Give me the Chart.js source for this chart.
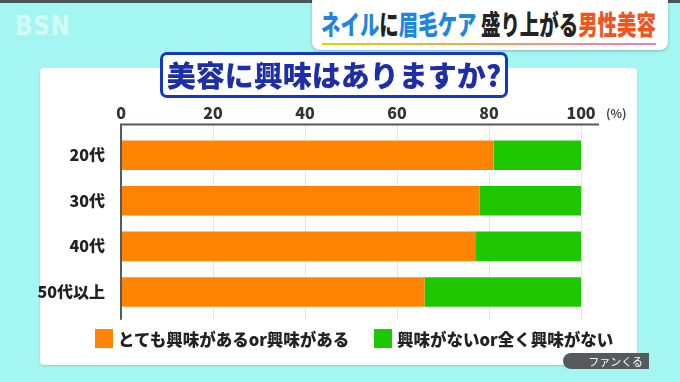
<!DOCTYPE html>
<html lang="ja">
<head>
<meta charset="utf-8">
<script src="https://cdn.jsdelivr.net/npm/chart.js@4/dist/chart.umd.min.js"></script>
<style>
  html, body { margin:0; padding:0; }
  body { width:680px; height:382px; overflow:hidden; position:relative; background:#a4f6f2;
         font-family:"Noto Sans CJK JP","Noto Sans",sans-serif; }
  .abs { position:absolute; }
  #strip { left:0; top:0; width:680px; height:3px; background:#4a5658; }
  #logo { left:15px; top:10px; font:700 27px "DejaVu Sans",sans-serif; color:rgba(255,255,255,0.55); letter-spacing:1px; transform:scaleX(0.85); transform-origin:left; }
  #header { left:312px; top:-6px; width:356px; height:56px; background:#fff; border-radius:8px; box-shadow:0 1px 3px rgba(0,0,0,0.25); }
  #headtext { left:321px; top:6px; width:340px; white-space:nowrap; font-weight:900; font-size:27px; line-height:36px; color:#222; transform:scaleX(0.72); transform-origin:left; }
  #headline { left:322px; top:43px; width:334px; height:2px; background:linear-gradient(90deg,#f4c800,#f7a050 50%,#f07ac8); }
  .blue { color:#1f86e0; } .red { color:#f2541e; }
  #panel { left:40px; top:68px; width:597px; height:297px; background:#fff; border-radius:4px; box-shadow:0 1px 2px rgba(0,0,0,0.15); }
  #title { left:160px; top:52px; width:342px; height:40px; background:#fff; border:3px solid #1537c4; border-radius:7px; }
  #titletext { left:160px; top:52px; width:348px; height:46px; text-align:center; font-weight:900; font-size:29px; line-height:44px; color:#1d2ea6; white-space:nowrap; z-index:3; }
  #wrap { left:0; top:0; width:680px; height:382px; z-index:2; }
  #pct { left:606px; top:104px; font:700 12px "Noto Sans CJK JP",sans-serif; color:#444; z-index:3; }
  .lg { z-index:3; display:flex; align-items:center; font-weight:900; font-size:16.5px; color:#222; white-space:nowrap; }
  .sw { width:18px; height:19px; margin-right:5px; }
  #credit { left:563px; top:353px; width:86px; height:16px; background:#555a5c; border-radius:8px 0 0 8px; color:#fff; font-size:11px; line-height:16px; text-align:right; padding-right:6px; box-sizing:border-box; z-index:3; }
</style>
</head>
<body>
<div id="strip" class="abs"></div>
<div id="logo" class="abs">BSN</div>
<div id="header" class="abs"></div>
<div id="headtext" class="abs"><span class="blue">ネイル</span>に<span class="blue">眉毛ケア</span> 盛り上がる<span class="red">男性美容</span></div>
<div id="headline" class="abs"></div>
<div id="panel" class="abs"></div>
<div id="title" class="abs"></div>
<div id="titletext" class="abs">美容に興味はありますか?</div>
<div id="wrap" class="abs"><canvas id="c" width="680" height="382"></canvas></div>
<div id="pct" class="abs">(%)</div>
<div id="credit" class="abs">ファンくる</div>
<script>
const categories = ['20代', '30代', '40代', '50代以上'];
const interested = [81, 78, 77, 66];
const notInterested = [19, 22, 23, 34];
const seriesLabels = ['とても興味があるor興味がある', '興味がないor全く興味がない'];
const seriesColors = ['#ff8404', '#1ec800'];
const xTickValues = [0, 20, 40, 60, 80, 100];

// legend as real text
const legendPos = [{left: 95, top: 328}, {left: 374, top: 328}];
seriesLabels.forEach((lab, i) => {
  const d = document.createElement('div');
  d.className = 'abs lg';
  d.style.left = legendPos[i].left + 'px';
  d.style.top = legendPos[i].top + 'px';
  d.style.height = '21px';
  const sw = document.createElement('span');
  sw.className = 'sw';
  sw.style.background = seriesColors[i];
  const t = document.createElement('span');
  t.textContent = lab;
  d.appendChild(sw); d.appendChild(t);
  document.body.appendChild(d);
});

const framePlugin = {
  id: 'frame',
  beforeDatasetsDraw(chart) {
    const {ctx, chartArea, scales: {x}} = chart;
    const top = chartArea.top - 8, bottom = chartArea.bottom + 5;
    ctx.save();
    ctx.strokeStyle = '#e3e7e7';
    ctx.lineWidth = 1;
    xTickValues.forEach(v => {
      const px = Math.round(x.getPixelForValue(v)) + 0.5;
      ctx.beginPath(); ctx.moveTo(px, top); ctx.lineTo(px, bottom); ctx.stroke();
    });
    ctx.restore();
  },
  afterDatasetsDraw(chart) {
    const {ctx, chartArea, scales: {x}} = chart;
    const top = chartArea.top - 8, bottom = chartArea.bottom + 5;
    const x0 = x.getPixelForValue(0), x1 = x.getPixelForValue(100);
    ctx.save();
    ctx.strokeStyle = '#555b5c';
    ctx.lineWidth = 2;
    ctx.beginPath(); ctx.moveTo(x0 - 1, top); ctx.lineTo(x1 + 18, top); ctx.stroke();
    ctx.beginPath(); ctx.moveTo(x0, top); ctx.lineTo(x0, bottom); ctx.stroke();
    ctx.restore();
  }
};

new Chart(document.getElementById('c'), {
  type: 'bar',
  data: {
    labels: categories,
    datasets: [
      { label: seriesLabels[0], data: interested, backgroundColor: seriesColors[0], borderWidth: 0 },
      { label: seriesLabels[1], data: notInterested, backgroundColor: seriesColors[1], borderWidth: 0 }
    ]
  },
  options: {
    indexAxis: 'y',
    responsive: false,
    animation: false,
    events: [],
    barPercentage: 0.65,
    categoryPercentage: 1.0,
    layout: { padding: { left: 0, top: 82.4, right: 99, bottom: 67.2 } },
    plugins: { legend: { display: false }, tooltip: { enabled: false } },
    scales: {
      x: {
        type: 'linear', position: 'top', stacked: true, min: 0, max: 100,
        afterBuildTicks: s => { s.ticks = xTickValues.map(v => ({ value: v })); },
        afterFit: s => { s.height = 50; },
        ticks: { font: { family: '"Noto Sans CJK JP", sans-serif', size: 16, weight: '900' }, color: '#333', padding: 2, maxRotation: 0 },
        grid: { display: false },
        border: { display: false }
      },
      y: {
        stacked: true,
        afterFit: s => { s.width = 121; },
        ticks: { font: { family: '"Noto Sans CJK JP", sans-serif', size: 16, weight: '900' }, color: '#222', padding: 8 },
        grid: { display: false },
        border: { display: false }
      }
    }
  },
  plugins: [framePlugin]
});
</script>
</body>
</html>
